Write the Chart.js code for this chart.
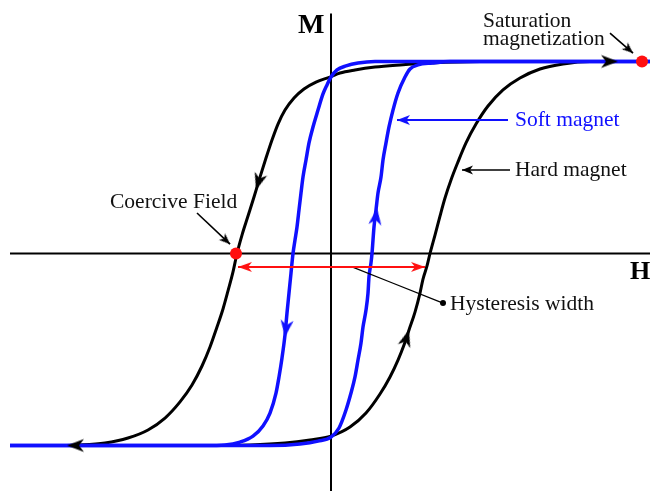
<!DOCTYPE html>
<html>
<head>
<meta charset="utf-8">
<script src="https://cdn.jsdelivr.net/npm/chart.js@4/dist/chart.umd.min.js"></script>
<style>
  html, body { margin: 0; padding: 0; background: #fff; }
  .wrap { width: 650px; height: 491px; position: relative; }
</style>
</head>
<body>
<div class="wrap"><canvas id="loop"></canvas></div>
<script>
// Field H and magnetization M (M = +/-1 is saturation)

// hard magnet, field coming down from +sat
const hardDownH = [3.19, 1.49, 0.99, 0.69, 0.44, 0.24, 0.09, -0.01, -0.15, -0.27, -0.37, -0.46, -0.53, -0.59, -0.65, -0.71, -0.77, -0.83, -0.89, -0.94,
                   -0.98, -1.03, -1.08, -1.14, -1.21, -1.29, -1.39, -1.51, -1.66, -1.83, -2.03, -2.26, -2.51, -2.81, -3.21];
const hardDownM = [1.0, 1.0, 0.992, 0.982, 0.971, 0.956, 0.94, 0.919, 0.893, 0.857, 0.81, 0.747, 0.674, 0.591, 0.497, 0.398, 0.294, 0.195, 0.096, 0.0,
                   -0.096, -0.195, -0.289, -0.383, -0.487, -0.586, -0.685, -0.773, -0.857, -0.919, -0.961, -0.987, -0.997, -1.0, -1.0];
// hard magnet, field going back up
const hardUpH = [-3.21, -1.31, -0.81, -0.46, -0.21, 0.0, 0.19, 0.35, 0.49, 0.59, 0.67, 0.73, 0.78, 0.84, 0.89, 0.92, 0.96, 0.99,
                 1.04, 1.09, 1.14, 1.20, 1.27, 1.35, 1.45, 1.57, 1.72, 1.89, 2.09, 2.32, 2.59, 3.19];
const hardUpM = [-1.0, -1.0, -0.997, -0.987, -0.971, -0.951, -0.904, -0.831, -0.732, -0.643, -0.555, -0.477, -0.398, -0.305, -0.206, -0.133, -0.065, 0.0,
                 0.096, 0.195, 0.289, 0.383, 0.477, 0.576, 0.674, 0.768, 0.852, 0.914, 0.961, 0.987, 1.0, 1.0];

// soft magnet
const softDownH = [3.19, 0.89, 0.44, 0.27, 0.15, 0.06, 0.0, -0.04, -0.08, -0.13, -0.18, -0.22, -0.25, -0.28, -0.30, -0.32, -0.34, -0.36, -0.38,
                   -0.40, -0.42, -0.44, -0.46, -0.49, -0.52, -0.55, -0.61, -0.68, -0.78, -0.91, -1.06, -1.26, -3.21];
const softDownM = [1.0, 1.0, 1.0, 0.992, 0.977, 0.956, 0.919, 0.878, 0.831, 0.747, 0.659, 0.576, 0.487, 0.398, 0.315, 0.227, 0.138, 0.07, 0.0,
                   -0.102, -0.206, -0.31, -0.424, -0.544, -0.643, -0.727, -0.831, -0.898, -0.951, -0.982, -0.997, -1.0, -1.0];
const softUpH = [-3.21, -0.61, -0.31, -0.13, 0.0, 0.08, 0.15, 0.20, 0.24, 0.27, 0.30, 0.32, 0.35, 0.37, 0.38, 0.40, 0.41,
                 0.42, 0.43, 0.45, 0.47, 0.50, 0.52, 0.55, 0.58, 0.62, 0.67, 0.74, 0.79, 0.87, 1.01, 1.19, 3.19];
const softUpM = [-1.0, -1.0, -0.992, -0.977, -0.956, -0.909, -0.815, -0.727, -0.643, -0.555, -0.466, -0.383, -0.294, -0.206, -0.122, -0.049, 0.0,
                 0.07, 0.138, 0.227, 0.315, 0.398, 0.487, 0.576, 0.659, 0.747, 0.836, 0.919, 0.961, 0.982, 0.992, 1.0, 1.0];

// direction arrows sitting on the loops (tip positions)
const blackTipH = [2.87, -0.75, -2.64, 0.78];
const blackTipM = [1.0, 0.331, -1.0, -0.398];
const blueTipH = [-0.46, 0.46];
const blueTipM = [-0.435, 0.237];

// marked points
const satPoint = [3.11, 1.0];
const coercivePoint = [-0.95, 0.0];

// annotation pointers: [fromH, fromM, toH, toM]
const satPointer = [2.79, 1.148, 3.02, 1.044];
const softPointer = [1.77, 0.695, 0.66, 0.695];
const hardPointer = [1.79, 0.435, 1.31, 0.435];
const coercivePointer = [-1.34, 0.211, -1.01, 0.049];
const widthSpan = [-0.93, -0.07, 0.94, -0.07];
const widthLeader = [0.21, -0.07, 1.12, -0.258];

// axes extents
const hAxis = [-3.21, 3.19];
const mAxis = [-1.24, 1.25];

const labelText = ['M', 'H', 'Saturation', 'magnetization', 'Soft magnet', 'Hard magnet', 'Coercive Field', 'Hysteresis width'];
const labelH = [-0.33, 2.99, 1.52, 1.52, 1.84, 1.84, -2.21, 1.19];
const labelM = [1.148, -0.133, 1.18, 1.086, 0.664, 0.404, 0.237, -0.294];

const BLUE = '#1010ff';
const RED = '#ff1010';
const serif = '"Liberation Serif", "Times New Roman", serif';

function pts(hs, ms) {
    return hs.map((h, i) => ({ x: h, y: ms[i] }));
}
function seg(s) {
    return [{ x: s[0], y: s[1] }, { x: s[2], y: s[3] }];
}

// barbed arrow head, tip in the middle of the image so it lands on the data point
function arrowHead(len, half, notch, color) {
    const c = document.createElement('canvas');
    const s = Math.ceil(len) * 2 + 4;
    c.width = s; c.height = s;
    const g = c.getContext('2d');
    const m = s / 2;
    g.fillStyle = color;
    g.beginPath();
    g.moveTo(m, m);
    g.lineTo(m - half, m + len);
    g.lineTo(m, m + len - notch);
    g.lineTo(m + half, m + len);
    g.closePath();
    g.fill();
    return c;
}

const bigBlack = arrowHead(17, 6.5, 5, '#000');
const bigBlue = arrowHead(17, 6.5, 5, BLUE);
const smallBlack = arrowHead(11, 4.5, 3, '#000');
const smallBlue = arrowHead(13, 5, 3.5, BLUE);
const redHead = arrowHead(14, 5, 4, RED);

function line(data, color, width) {
    return { data: data, showLine: true, borderColor: color, borderWidth: width, pointRadius: 0,
             cubicInterpolationMode: 'monotone', fill: false, clip: false };
}
function heads(data, img, rot) {
    return { data: data, showLine: false, pointStyle: img, pointRadius: 5, pointRotation: rot, clip: false };
}

const labelPlugin = {
    id: 'labels',
    afterDatasetsDraw(chart) {
        const { ctx, scales } = chart;
        const fonts = ['bold 28px', 'bold 26px', '21.5px', '21.5px', '21.5px', '21.5px', '21.5px', '21.5px'];
        const colors = ['#000', '#000', '#111', '#111', BLUE, '#111', '#111', '#111'];
        ctx.save();
        ctx.textAlign = 'left';
        ctx.textBaseline = 'alphabetic';
        labelText.forEach((t, i) => {
            ctx.font = fonts[i] + ' ' + serif;
            ctx.fillStyle = colors[i];
            ctx.fillText(t, scales.x.getPixelForValue(labelH[i]), scales.y.getPixelForValue(labelM[i]));
        });
        ctx.restore();
    }
};

new Chart(document.getElementById('loop'), {
    type: 'scatter',
    data: {
        datasets: [
            // first listed = drawn on top
            { data: [{ x: satPoint[0], y: satPoint[1] }, { x: coercivePoint[0], y: coercivePoint[1] }],
              showLine: false, pointRadius: 6, pointBackgroundColor: RED, pointBorderWidth: 0, clip: false },
            { data: [{ x: widthLeader[2], y: widthLeader[3] }], showLine: false, pointRadius: 3, pointBackgroundColor: '#000', pointBorderWidth: 0 },
            heads(pts(blackTipH, blackTipM), bigBlack, [90, 197, 270, 17]),
            heads(pts(blueTipH, blueTipM), bigBlue, [187, 7]),
            heads([{ x: satPointer[2], y: satPointer[3] }, { x: hardPointer[2], y: hardPointer[3] }, { x: coercivePointer[2], y: coercivePointer[3] }], smallBlack, [131, 270, 133]),
            heads([{ x: softPointer[2], y: softPointer[3] }], smallBlue, [270]),
            heads([{ x: widthSpan[0], y: widthSpan[1] }, { x: widthSpan[2], y: widthSpan[3] }], redHead, [270, 90]),
            line(seg(satPointer), '#000', 1.6),
            line(seg(hardPointer), '#000', 1.6),
            line(seg(coercivePointer), '#000', 1.6),
            line(seg(softPointer), BLUE, 2),
            line(seg(widthSpan), RED, 2),
            line(seg(widthLeader), '#000', 1.3),
            line(pts(softUpH, softUpM), BLUE, 3.5),
            line(pts(softDownH, softDownM), BLUE, 3.5),
            line(pts(hardUpH, hardUpM), '#000', 3),
            line(pts(hardDownH, hardDownM), '#000', 3),
            line([{ x: hAxis[0], y: 0 }, { x: hAxis[1], y: 0 }], '#000', 2),
            line([{ x: 0, y: mAxis[0] }, { x: 0, y: mAxis[1] }], '#000', 2)
        ]
    },
    options: {
        responsive: true,
        maintainAspectRatio: false,
        animation: false,
        layout: { padding: 0, autoPadding: false },
        plugins: { legend: { display: false }, tooltip: { enabled: false } },
        scales: {
            x: { type: 'linear', display: false, min: -3.31, max: 3.19 },
            y: { type: 'linear', display: false, min: -1.237, max: 1.3203 }
        }
    },
    plugins: [labelPlugin]
});
</script>
</body>
</html>
